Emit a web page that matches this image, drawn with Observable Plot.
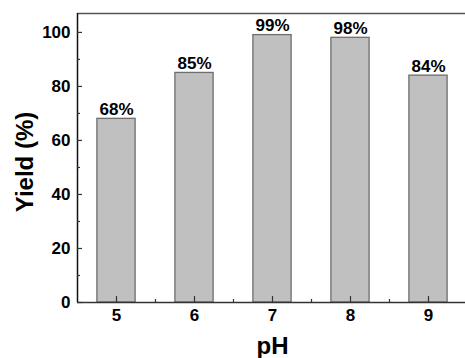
<!DOCTYPE html>
<html>
<head>
<meta charset="utf-8">
<script src="https://cdn.jsdelivr.net/npm/d3@7"></script>
<script src="https://cdn.jsdelivr.net/npm/@observablehq/plot@0.6"></script>
<style>
  html, body { margin: 0; padding: 0; background: #fff; }
  svg { display: block; }
</style>
</head>
<body>
<div id="chart"></div>
<script>
const pH = [5, 6, 7, 8, 9];
const yieldPct = [68, 85, 99, 98, 84];
const yTicks = [0, 20, 40, 60, 80, 100];
const yMinor = [10, 30, 50, 70, 90];
const xLabel = "pH";
const yLabel = "Yield (%)";

const data = pH.map((p, i) => ({pH: p, y: yieldPct[i]}));
const xMinor = pH.slice(0, -1).map((p, i) => (p + pH[i + 1]) / 2);
const xDomain = [4.5, 9.5];
const yDomain = [0, 107];
const half = 0.245;
const font = "'Liberation Sans', Arial, sans-serif";

const chart = Plot.plot({
  width: 465,
  height: 358,
  marginLeft: 77,
  marginRight: -2,
  marginTop: 13,
  marginBottom: 56,
  style: {fontFamily: font, fontWeight: "bold", fontSize: "17px", color: "#000", background: "#fff"},
  x: {domain: xDomain, label: null},
  y: {domain: yDomain, label: null},
  marks: [
    Plot.rectY(data, {x1: d => d.pH - half, x2: d => d.pH + half, y: "y", fill: "#c0c0c0", stroke: "#6e6e6e", strokeWidth: 1.3}),
    Plot.text(data, {x: "pH", y: "y", text: d => d.y + "%", dy: -4, lineAnchor: "bottom", fontSize: 17, fontWeight: "bold", fill: "#000"}),
    // frame lines
    Plot.ruleY([yDomain[1]], {stroke: "#555", strokeWidth: 1.3}),
    Plot.ruleY([0], {stroke: "#333", strokeWidth: 1.5}),
    Plot.ruleX([xDomain[0]], {stroke: "#111", strokeWidth: 1.5}),
    // y axis
    Plot.axisY({ticks: yTicks, tickSize: 0, tickPadding: 7, tickFormat: "d", fontSize: 17, fontWeight: "bold", label: null}),
    Plot.axisY({ticks: yTicks, tickSize: -5, text: null, label: null, stroke: "#333", strokeWidth: 1.2}),
    Plot.axisY({ticks: yMinor, tickSize: -3, text: null, label: null, stroke: "#333", strokeWidth: 1.2}),
    // x axis
    Plot.axisX({ticks: pH, tickSize: 0, tickPadding: 6, tickFormat: "d", fontSize: 17, fontWeight: "bold", label: null}),
    Plot.axisX({ticks: pH, tickSize: -6, text: null, label: null, stroke: "#333", strokeWidth: 1.2}),
    Plot.axisX({ticks: xMinor, tickSize: -3, text: null, label: null, stroke: "#333", strokeWidth: 1.2}),
    // axis titles
    Plot.text([yLabel], {frameAnchor: "left", rotate: -90, dx: -52, dy: 4, textAnchor: "middle", lineAnchor: "middle", fontSize: 24, fontWeight: "bold", fill: "#000"}),
    Plot.text([xLabel], {frameAnchor: "bottom", dy: 44, textAnchor: "middle", lineAnchor: "middle", fontSize: 24, fontWeight: "bold", fill: "#000"})
  ]
});
document.getElementById("chart").append(chart);
</script>
</body>
</html>
